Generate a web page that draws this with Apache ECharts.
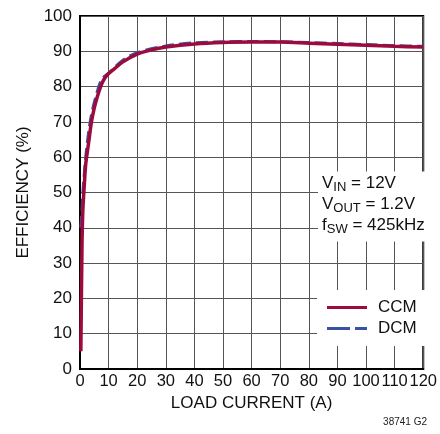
<!DOCTYPE html>
<html><head><meta charset="utf-8">
<script src="https://cdn.jsdelivr.net/npm/echarts@6/dist/echarts.min.js"></script>
<style>html,body{margin:0;padding:0;background:#fff}#c{width:440px;height:434px}</style>
</head><body><div id="c"></div>
<script>
const xTicks = [0,10,20,30,40,50,60,70,80,90,100,110,120];
const ccmCurrent = [0.3,0.7,1,1.5,2,3,4,5,6,7,8,9.5,12,15,20,25,30,40,50,60,70,80,90,100,110,120];
const ccmEff     = [5,35,45,52,58,64,70,74,77,79.5,81.5,83.3,85,87,89.2,90.4,91.2,92.1,92.5,92.6,92.6,92.3,92,91.7,91.4,91.2];
const dcmCurrent = [0.3,0.7,1,2,3,4,5,6,7,8,10,15,20,30,40,50,60,70,80,90,100,110,120];
const dcmEff     = [40,45,50,60,67,72,75.5,78.5,81,82.5,83.8,87.5,89.6,91.5,92.4,92.7,92.8,92.7,92.5,92.2,91.9,91.6,91.4];
const seriesNames = ['CCM','DCM'];
const FONT = "'Liberation Sans',Arial,sans-serif";
const RED = '#9c0b3b', BLUE = '#3a52a4';

const pair = (xs, ys) => xs.map((x,i)=>[x, ys[i]]);
const chart = echarts.init(document.getElementById('c'), null, {renderer:'canvas'});
chart.setOption({
  animation:false,
  backgroundColor:'#fff',
  textStyle:{fontFamily:FONT},
  grid:{left:80,right:9,top:16,bottom:65,show:true,borderColor:'#000',borderWidth:2,backgroundColor:'transparent'},
  xAxis:{type:'value',min:0,max:120,interval:10,
    axisLine:{lineStyle:{color:'#000',width:2}},axisTick:{show:false},
    splitLine:{lineStyle:{color:'#555',width:1}},
    axisLabel:{color:'#111',fontSize:16.5,fontFamily:FONT,margin:4,showMaxLabel:true,hideOverlap:false},
    name:'LOAD CURRENT (A)',nameLocation:'middle',nameGap:25,
    nameTextStyle:{color:'#111',fontSize:17,fontFamily:FONT}},
  yAxis:{type:'value',min:0,max:100,interval:10,
    axisLine:{show:true,lineStyle:{color:'#000',width:2}},axisTick:{show:false},
    splitLine:{lineStyle:{color:'#555',width:1}},
    axisLabel:{color:'#111',fontSize:17,fontFamily:FONT,margin:8},
    name:'EFFICIENCY (%)',nameLocation:'middle',nameGap:48,
    nameTextStyle:{color:'#111',fontSize:17,fontFamily:FONT}},
  legend:{orient:'vertical',left:317,top:290,itemWidth:40,itemHeight:3,itemGap:2,
    backgroundColor:'#fff',padding:[8,10,8,10],
    data:[
      {name:seriesNames[0],icon:'rect',itemStyle:{color:RED}},
      {name:seriesNames[1],icon:'path://M0,0h23v3h-23zM28,0h12v3h-12z',itemStyle:{color:BLUE}}
    ],
    textStyle:{fontSize:17,color:'#111',fontFamily:FONT,padding:[0,0,0,6],lineHeight:19}},
  title:[{
    left:318,top:171,backgroundColor:'#fff',padding:[2,8,6,4],
    text:'{n|V}{s|IN}{n| = 12V}\n{n|V}{s|OUT}{n| = 1.2V}\n{n|f}{s|SW}{n| = 425kHz}',
    textStyle:{fontWeight:'normal',rich:{
      n:{fontSize:17,fontWeight:'normal',fontFamily:FONT,color:'#111',lineHeight:21},
      s:{fontSize:13,fontWeight:'normal',fontFamily:FONT,color:'#111',lineHeight:21,padding:[7,0,0,0]}
    }}
  },{
    right:8,bottom:2,text:'38741 G2',
    textStyle:{fontSize:10,fontWeight:'normal',color:'#222',fontFamily:FONT}
  }],
  series:[
    {name:'DCM',type:'line',smooth:0.3,symbol:'none',z:2,
      data:pair(dcmCurrent,dcmEff),
      lineStyle:{color:BLUE,width:3,type:[12,5]},itemStyle:{color:BLUE}},
    {name:'CCM',type:'line',smooth:0.3,symbol:'none',z:3,
      data:pair(ccmCurrent,ccmEff),
      lineStyle:{color:RED,width:3.5},itemStyle:{color:RED}}
  ]
});
</script></body></html>
